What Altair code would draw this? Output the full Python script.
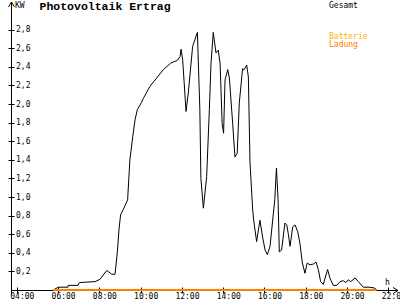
import altair as alt
import pandas as pd

# Gesamt (total) output, hours of day -> kW
hours = [5.77, 6.01, 6.48, 6.49, 6.97, 7.04, 7.79, 8.03, 8.36, 8.60, 8.76, 8.87, 8.95, 9.03,
         9.19, 9.37, 9.48, 9.62, 9.73, 9.84, 10.05, 10.13, 10.45, 10.78, 11.10, 11.46, 11.78,
         11.91, 11.96, 12.04, 12.20, 12.31, 12.52, 12.75, 12.87, 12.92, 13.04, 13.20, 13.33,
         13.41, 13.52, 13.65, 13.76, 13.85, 13.95, 14.02, 14.09, 14.22, 14.30, 14.46, 14.57,
         14.68, 14.78, 14.94, 15.02, 15.14, 15.22, 15.30, 15.43, 15.49, 15.62, 15.78, 15.91,
         16.03, 16.14, 16.27, 16.43, 16.50, 16.58, 16.66, 16.72, 16.83, 16.99, 17.08, 17.15,
         17.24, 17.37, 17.48, 17.61, 17.72, 17.83, 17.96, 18.07, 18.21, 18.37, 18.50, 18.61,
         18.72, 18.85, 18.98, 19.06, 19.17, 19.33, 19.50, 19.66, 19.82, 19.95, 20.06, 20.18,
         20.39, 20.55, 20.79, 21.11, 21.35, 21.44]
kw = [0.0, 0.03, 0.03, 0.05, 0.05, 0.08, 0.09, 0.115, 0.21, 0.17, 0.17, 0.40, 0.645, 0.81,
      0.88, 0.97, 1.40, 1.65, 1.83, 1.94, 2.02, 2.06, 2.19, 2.28, 2.37, 2.44, 2.47,
      2.51, 2.59, 2.47, 1.92, 2.12, 2.62, 2.77, 1.94, 1.20, 0.88, 1.22, 1.94,
      2.44, 2.77, 2.55, 2.58, 2.44, 1.79, 1.685, 2.26, 2.37, 2.28, 1.79, 1.43,
      1.47, 2.01, 2.38, 2.37, 2.42, 2.29, 1.37, 0.86, 0.73, 0.52, 0.75, 0.57,
      0.43, 0.38, 0.47, 0.82, 0.97, 1.31, 0.97, 0.41, 0.43, 0.72, 0.70, 0.61,
      0.47, 0.68, 0.70, 0.63, 0.50, 0.30, 0.18, 0.29, 0.27, 0.28, 0.30, 0.22,
      0.09, 0.06, 0.16, 0.22, 0.13, 0.05, 0.05, 0.09, 0.10, 0.08, 0.11, 0.09,
      0.13, 0.09, 0.03, 0.03, 0.02, 0.0]

# Batterie Ladung (charging), flat zero over the day
charge_hours = [5.77, 21.44]
charge_kw = [0.0, 0.0]

x_ticks = [4, 6, 8, 10, 12, 14, 16, 18, 20, 22]
y_ticks = [0.2, 0.4, 0.6, 0.8, 1.0, 1.2, 1.4, 1.6, 1.8, 2.0, 2.2, 2.4, 2.6, 2.8]

W, H = 387, 285
MONO = "DejaVu Sans Mono"

df = pd.DataFrame({"t": hours, "kw": kw})
dc = pd.DataFrame({"t": charge_hours, "kw": charge_kw})

xs = alt.Scale(domain=[3.72, 22.47], nice=False, zero=False)
ys = alt.Scale(domain=[0, 3.065], nice=False, zero=False)

xaxis = alt.Axis(values=x_ticks, title=None, domain=False, grid=False,
                 labelExpr="(datum.value < 10 ? '0' : '') + datum.value + ':00'",
                 tickSize=6, offset=-3, tickColor="black", labelColor="black",
                 labelFont=MONO, labelFontSize=8, labelPadding=-1, labelAlign="left",
                 labelOffset=-7, labelOverlap=False, labelFlush=False, labelBound=False)
yaxis = alt.Axis(values=y_ticks, title=None, domain=False, grid=False,
                 labelExpr="replace(format(datum.value, '.1f'), '.', ',')",
                 tickSize=6, offset=-3, tickColor="black", labelColor="black",
                 labelFont=MONO, labelFontSize=8, labelPadding=-7.5, labelAlign="left",
                 labelBaseline="middle", labelOverlap=False, labelFlush=False, labelBound=False)

def seg(x1, y1, x2, y2, color="black"):
    return alt.Chart(pd.DataFrame({"a": [0]})).mark_rule(color=color, strokeWidth=1).encode(
        x=alt.value(x1), y=alt.value(y1), x2=alt.value(x2), y2=alt.value(y2))

xline = seg(0, H + 0.5, W, H + 0.5)
yline = seg(0.5, -3, 0.5, H + 5)
yarr1 = seg(0.5, -3, -2.5, 2)
yarr2 = seg(0.5, -3, 3.5, 2)
xarr1 = seg(W, H + 0.5, W - 5, H - 2.5)
xarr2 = seg(W, H + 0.5, W - 5, H + 3.5)

line = alt.Chart(df).mark_line(color="black", strokeWidth=1, interpolate="linear").encode(
    x=alt.X("t:Q", scale=xs, axis=xaxis),
    y=alt.Y("kw:Q", scale=ys, axis=yaxis),
)
charge = alt.Chart(dc).mark_line(color="#FF8000", strokeWidth=2).encode(
    x=alt.X("t:Q", scale=xs, axis=xaxis), y=alt.Y("kw:Q", scale=ys, axis=yaxis)
)

def label(txt, x, y, color="black", size=8, weight="normal", font=MONO, baseline="alphabetic"):
    return alt.Chart(pd.DataFrame({"s": [txt]})).mark_text(
        align="left", baseline=baseline, font=font, fontSize=size, fontWeight=weight,
        color=color).encode(x=alt.value(x), y=alt.value(y), text="s:N")

title = label("Photovoltaik Ertrag", 28.5, 5, size=11.5, weight="bold", font="Liberation Mono")
kw_lbl = label("KW", 4, 3)
h_lbl = label("h", 374, 280)
ges = label("Gesamt", 318, 2.5)
bat = label("Batterie", 318, 34, color="#FFB000")
lad = label("Ladung", 318, 41.5, color="#FF8000")

chart = alt.layer(line, xline, yline, yarr1, yarr2, xarr1, xarr2, charge,
                  title, kw_lbl, h_lbl, ges, bat, lad).properties(
    width=W, height=H,
    autosize=alt.AutoSizeParams(type="none"),
    padding={"left": 11, "top": 5, "right": 2, "bottom": 10},
    background="white",
).configure_view(stroke=None).configure_axis(labelOverlap=False)

chart.save("out.html", embed_options={"renderer": "svg", "actions": False})
